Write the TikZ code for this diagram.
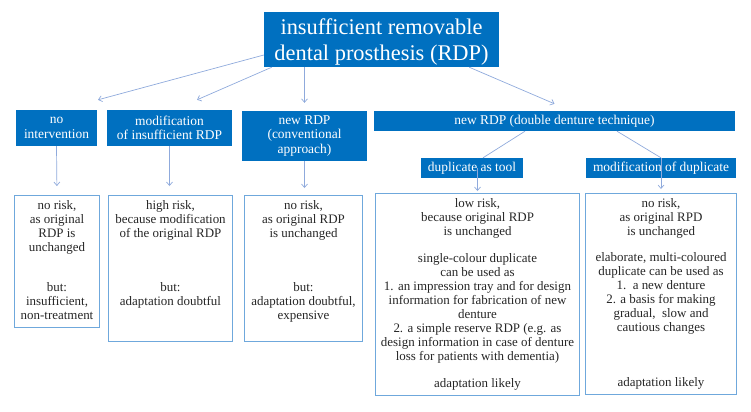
\documentclass[tikz,border=0pt]{standalone}
\usepackage{fontspec}
\setmainfont{Liberation Serif}
\usepackage{xcolor}
\usepackage{tikz}
\usetikzlibrary{calc}
\usetikzlibrary{arrows.meta}
\usetikzlibrary{positioning}

\definecolor{headblue}{HTML}{0070C0}
\definecolor{lineblue}{HTML}{8FAADC}
\definecolor{frameblue}{HTML}{6FA8DC}

\begin{document}
\begin{tikzpicture}[x=1bp,y=-1bp]
% 1 = 1px of the picture, y runs down
    \def\MIDY{128}   %first row of options
    \def\RESTOP{195} %top of result boxes
    \def\TEXTDROP{-5bp}

    \tikzset{
      head/.style={fill=headblue, text=white, inner sep=0pt, align=center,
        font=\fontsize{13.5}{14.5}\selectfont},
      result/.style={draw=frameblue, line width=1pt, inner sep=0pt,
        anchor=north west},
      restext/.style={anchor=north, inner sep=0pt, align=center,
        text=black!85, font=\fontsize{13}{14}\selectfont},
      arr/.style={-{Straight Barb[length=3.5pt,width=6pt]}, draw=lineblue,
        line width=0.7pt},
      link/.style={draw=lineblue, line width=0.7pt},
    }

    \useasboundingbox (0,0) rectangle (751,411);

    % TOP BOX
    \node[head, minimum width=235bp, minimum height=55bp, text depth=0pt,
        font=\fontsize{22.5}{26}\selectfont] (rdp) at (381.5,39.5)
        {insufficient removable\\dental prosthesis (RDP)};

    % OPTIONS
    \node[head, minimum width=81bp, minimum height=36bp] (noint)
        at (56.5,\MIDY) {no\\intervention};
    \node[head, minimum width=125bp, minimum height=36bp] (modif)
        at (169.5,\MIDY) {modification\\of insufficient RDP};
    \node[head, minimum width=125bp, minimum height=50bp] (conv)
        at (304.5,136) {new RDP\\(conventional\\approach)};
    \node[head, minimum width=361bp, minimum height=20bp] (double)
        at (554.5,121) {new RDP (double denture technique)};
    \node[head, minimum width=102bp, minimum height=20bp] (tool)
        at (472,168) {duplicate as tool};
    \node[head, minimum width=150bp, minimum height=20bp] (moddup)
        at (661,168) {modification of duplicate};

    % RESULT BOXES
    \node[result, minimum width=85bp, minimum height=132bp] (resA)
        at (14,\RESTOP) {};
    \node[result, minimum width=124bp, minimum height=146bp] (resB)
        at (108,\RESTOP) {};
    \node[result, minimum width=118bp, minimum height=146bp] (resC)
        at (244,\RESTOP) {};
    \node[result, minimum width=204bp, minimum height=202bp] (resD)
        at (375,193) {};
    \node[result, minimum width=151bp, minimum height=201bp] (resE)
        at (585,193) {};

    \node[restext] at ([yshift=\TEXTDROP]resA.north)
        {no risk,\\as original\\RDP is\\unchanged\\[27pt]but:\\insufficient,\\non-treatment};
    \node[restext] at ([yshift=\TEXTDROP]resB.north)
        {high risk,\\because modification\\of the original RDP\\[41pt]but:\\adaptation doubtful};
    \node[restext] at ([yshift=\TEXTDROP]resC.north)
        {no risk,\\as original RDP\\is unchanged\\[41pt]but:\\adaptation doubtful,\\expensive};
    \node[restext] at ([yshift=\TEXTDROP]resD.north)
        {low risk,\\because original RDP\\is unchanged\\[14pt]single-colour duplicate\\can be used as\\
         1. an impression tray and for design\\information for fabrication of new\\denture\\
         2. a simple reserve RDP (e.g. as\\design information in case of denture\\
         loss for patients with dementia)\\[13pt]adaptation likely};
    \node[restext] at ([yshift=\TEXTDROP]resE.north)
        {no risk,\\as original RPD\\is unchanged\\[13pt]elaborate, multi-coloured\\
         duplicate can be used as\\1.\ \ a new denture\\2. a basis for making\\
         gradual,\ \ slow and\\cautious changes\\[41pt]adaptation likely};

    % ARROWS FROM TOP
    \draw[arr] ([yshift=-15.5bp]rdp.west) -- ([xshift=41.5bp,yshift=10bp]noint.north);
    \draw[arr] ([xshift=8bp]rdp.south west) -- ([xshift=27.5bp,yshift=10bp]modif.north);
    \draw[arr] (conv.north |- rdp.south) -- ([yshift=8bp]conv.north);
    \draw[arr] ([xshift=-30bp]rdp.south east) -- ([yshift=7bp]double.north);

    % DOUBLE DENTURE BRANCHES
    \draw[link] ([xshift=-29.5bp]double.south) -- ([xshift=11bp]tool.north);
    \draw[link] ([xshift=62.5bp]double.south) -- (resE.north |- moddup.north);

    % DOWN TO RESULTS
    \draw[arr, shorten >=9bp] (noint.south) -- (resA.north);
    \draw[arr, shorten >=9bp] (modif.south) -- (modif.south |- resB.north);
    \draw[arr, shorten >=7bp] (conv.south) -- (conv.south |- resC.north);
    \draw[arr, shorten >=2bp] (resD.north |- tool.center) -- (resD.north);
    \draw[arr, shorten >=4bp] (resE.north |- moddup.north) -- (resE.north);

\end{tikzpicture}
\end{document}
